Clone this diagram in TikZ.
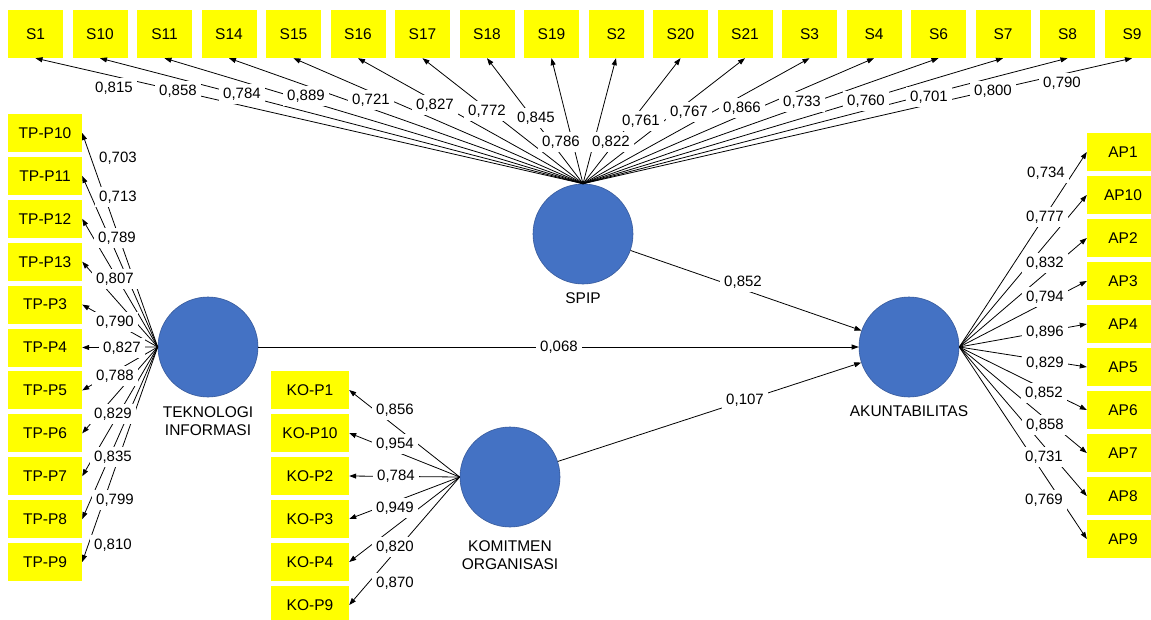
\documentclass[tikz,border=0pt]{standalone}
\usepackage{fontspec}
\setmainfont{Liberation Sans}
\usetikzlibrary{arrows.meta}
\definecolor{lvblue}{RGB}{68,114,196}
\definecolor{lvedge}{RGB}{55,90,155}
\definecolor{indyel}{RGB}{255,255,0}
\begin{document}
\begin{tikzpicture}[x=1pt,y=-1pt,
  ibox/.style={fill=indyel, inner sep=0pt, minimum height=38pt, font=\fontsize{15.5}{17}\selectfont},
  sbox/.style={ibox, minimum width=55pt, minimum height=48pt},
  tpbox/.style={ibox, minimum width=74pt},
  kobox/.style={ibox, minimum width=78pt},
  apbox/.style={ibox, minimum width=72pt},
  lv/.style={circle, fill=lvblue, draw=lvedge, line width=0.6pt, minimum size=100pt, inner sep=0pt},
  lvname/.style={align=center, font=\fontsize{15.5}{18}\selectfont},
  wt/.style={fill=white, inner xsep=4pt, inner ysep=4pt, font=\fontsize{15}{16}\selectfont},
  arr/.style={draw=black, line width=0.8pt, -{Triangle[length=7pt,width=5pt]}}]
\useasboundingbox (0,0) rectangle (1151,619);
\clip (0,0) rectangle (1151,619);
\fill[white] (0,0) rectangle (1151,619);

% latent variables
\node[lv] (spip) at (583,234) {};
\node[lv] (ti) at (208,347) {};
\node[lv] (ko) at (510,477) {};
\node[lv] (ak) at (909,347) {};
\node[lvname] (spipname) at (583,298) {SPIP};
\node[lvname] (tiname) at (208,421) {TEKNOLOGI\\INFORMASI};
\node[lvname] (koname) at (510,555) {KOMITMEN\\ORGANISASI};
\node[lvname] (akname) at (909,411) {AKUNTABILITAS};

% S indicators
\foreach \n [count=\i from 0] in {S1,S10,S11,S14,S15,S16,S17,S18,S19,S2,S20,S21,S3,S4,S6,S7,S8,S9}{
  \node[sbox] (s\i) at ({35.5+64.5*\i},34) {\n};
  \draw[arr] (spip.north) -- (s\i.south);
}
% TP indicators
\foreach \n [count=\i from 0] in {TP-P10,TP-P11,TP-P12,TP-P13,TP-P3,TP-P4,TP-P5,TP-P6,TP-P7,TP-P8,TP-P9}{
  \node[tpbox] (tp\i) at (45,{133+42.9*\i}) {\n};
  \draw[arr] (ti.west) -- (tp\i.east);
}
% KO indicators
\foreach \n [count=\i from 0] in {KO-P1,KO-P10,KO-P2,KO-P3,KO-P4,KO-P9}{
  \node[kobox] (ko\i) at (310,{390+43*\i}) {\n};
  \draw[arr] (ko.west) -- (ko\i.east);
}
% AP indicators
\foreach \n [count=\i from 0] in {AP1,AP10,AP2,AP3,AP4,AP5,AP6,AP7,AP8,AP9}{
  \node[apbox] (ap\i) at (1123,{152+43*\i}) {\n};
  \draw[arr] (ak.east) -- (ap\i.west);
}

% structural paths
\draw[arr] (spip) -- (ak);
\draw[arr] (ti) -- (ak);
\draw[arr] (ko) -- (ak);
\node[wt] (p1) at (743,282) {0,852};
\node[wt] (p2) at (559,347) {0,068};
\node[wt] (p3) at (745,400) {0,107};

% S loadings
\foreach \v/\x/\y [count=\i from 0] in {{0,815}/114/88, {0,858}/178/91, {0,784}/242/94, {0,889}/306/96, {0,721}/371/100, {0,827}/435/105, {0,772}/487/111, {0,845}/536/118, {0,786}/561/142, {0,822}/611/142, {0,761}/641/121, {0,767}/689/112, {0,866}/742/108, {0,733}/802/102, {0,760}/866/101, {0,701}/929/97, {0,800}/993/91, {0,790}/1062/83}{
  \node[wt] (ls\i) at (\x,\y) {\v};
}
% TP loadings
\foreach \v/\x/\y [count=\i from 0] in {{0,703}/118/158, {0,713}/118/197, {0,789}/117/238, {0,807}/115/279, {0,790}/115/322, {0,827}/122/348, {0,788}/115/376, {0,829}/113/414, {0,835}/113/457, {0,799}/115/500, {0,810}/113/545}{
  \node[wt] (ltp\i) at (\x,\y) {\v};
}
% KO loadings
\foreach \v/\x/\y [count=\i from 0] in {{0,856}/395/410, {0,954}/395/444, {0,784}/396/476, {0,949}/395/508, {0,820}/395/547, {0,870}/395/583}{
  \node[wt] (lko\i) at (\x,\y) {\v};
}
% AP loadings
\foreach \v/\x/\y [count=\i from 0] in {{0,734}/1046/173, {0,777}/1045/217, {0,832}/1045/263, {0,794}/1045/297, {0,896}/1045/332, {0,829}/1045/363, {0,852}/1044/393, {0,858}/1045/425, {0,731}/1044/457, {0,769}/1044/500}{
  \node[wt] (lap\i) at (\x,\y) {\v};
}
\end{tikzpicture}
\end{document}
